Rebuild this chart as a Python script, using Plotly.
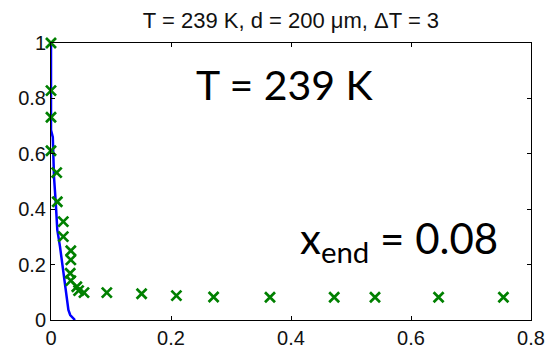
import plotly.graph_objects as go

# Model curve (blue line)
line_x = [0, 0, 0.003, 0.005, 0.008, 0.0105, 0.015, 0.0205, 0.025, 0.029, 0.032, 0.04]
line_y = [1.0, 0.686, 0.66, 0.517, 0.42, 0.325, 0.265, 0.169, 0.096, 0.036, 0.018, 0.0]

# Measured points (green crosses)
pts_x = [0, 0, 0, 0, 0.0095, 0.0105, 0.0205, 0.0205, 0.033, 0.033, 0.032, 0.033,
         0.043, 0.046, 0.055, 0.093, 0.151, 0.209, 0.271, 0.365, 0.472, 0.54, 0.646, 0.754]
pts_y = [1.0, 0.828, 0.732, 0.611, 0.532, 0.427, 0.355, 0.301, 0.250, 0.217, 0.169, 0.142,
         0.120, 0.106, 0.099, 0.099, 0.095, 0.088, 0.083, 0.082, 0.082, 0.082, 0.082, 0.082]

x_ticks = [0, 0.2, 0.4, 0.6, 0.8]
x_tick_labels = ["0", "0.2", "0.4", "0.6", "0.8"]
y_ticks = [0, 0.2, 0.4, 0.6, 0.8, 1]
y_tick_labels = ["0", "0.2", "0.4", "0.6", "0.8", "1"]

title_text = "T = 239 K, d = 200 μm, ΔT = 3"
label_T = "T = 239 K"
label_x = "x<sub>end</sub> = 0.08"

fig = go.Figure()
fig.add_trace(go.Scatter(x=line_x, y=line_y, mode="lines",
                         line=dict(color="#0000ff", width=2.5),
                         cliponaxis=False, showlegend=False))
fig.add_trace(go.Scatter(x=pts_x, y=pts_y, mode="markers",
                         marker=dict(symbol="x-thin", size=10, color="#008000",
                                     line=dict(color="#008000", width=2.7)),
                         cliponaxis=False, showlegend=False))

axis_common = dict(showgrid=False, zeroline=False, showline=True, linecolor="black",
                   linewidth=1, mirror="ticks", ticks="inside", ticklen=4,
                   tickcolor="black", tickwidth=1, automargin=False,
                   tickfont=dict(family="Liberation Sans, Arial", size=20, color="#111"))

fig.update_xaxes(range=[0, 0.8], tickvals=x_ticks, ticktext=x_tick_labels, **axis_common)
fig.update_yaxes(range=[0, 1], tickvals=y_ticks, ticktext=y_tick_labels, **axis_common)

fig.add_annotation(x=0.390, y=0.852, xref="x", yref="y", text=label_T, showarrow=False,
                   font=dict(family="Lato", size=41, color="black"),
                   xanchor="center", yanchor="middle")
fig.add_annotation(x=0.748, y=0.287, xref="x", yref="y", text=label_x, showarrow=False,
                   font=dict(family="Lato", size=42, color="black"),
                   xanchor="right", yanchor="middle")

fig.update_layout(
    width=548, height=351,
    margin=dict(l=51, r=17, t=43, b=31, autoexpand=False),
    paper_bgcolor="white", plot_bgcolor="white",
    title=dict(text=title_text, x=0.531, xanchor="center", y=0.943, yanchor="middle",
               font=dict(family="Liberation Sans, Arial", size=22, color="#111")),
)

fig.write_html("out.html", config={"displayModeBar": False},
               post_script="document.body.style.margin='0';document.body.style.overflow='hidden';")
